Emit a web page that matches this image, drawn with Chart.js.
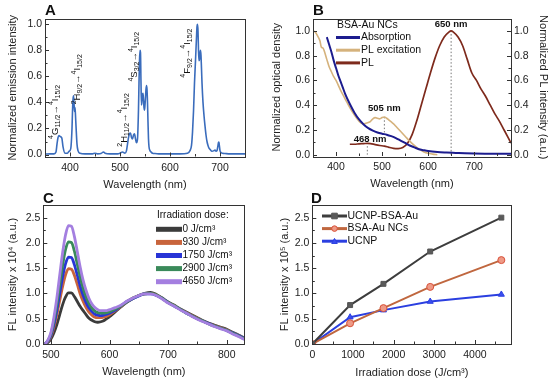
<!DOCTYPE html>
<html>
<head>
<meta charset="utf-8">
<script src="https://cdn.jsdelivr.net/npm/chart.js@4.4.0/dist/chart.umd.min.js"></script>
<style>
body { margin: 0; background: #fff; }
#wrap { position: relative; width: 550px; height: 381px; overflow: hidden; background: #fff; }
.panel { position: absolute; }
</style>
</head>
<body>
<div id="wrap">
  <div class="panel" style="left:0;top:0;width:275px;height:190px"><canvas id="chartA"></canvas></div>
  <div class="panel" style="left:265px;top:0;width:285px;height:190px"><canvas id="chartB"></canvas></div>
  <div class="panel" style="left:0;top:190px;width:275px;height:191px"><canvas id="chartC"></canvas></div>
  <div class="panel" style="left:265px;top:190px;width:285px;height:191px"><canvas id="chartD"></canvas></div>
</div>
<script>
// ---- panel A : UCNP emission
const wlA = [350, 360, 368, 372, 374, 376, 378, 380, 382, 384, 386, 390, 395, 398, 400, 402, 404, 405, 406, 407, 408, 409, 410, 411, 412, 414, 416, 420, 430, 445, 450, 455, 462, 467, 470, 480, 495, 500, 505, 510, 513, 515, 517, 519, 521, 523, 525, 527, 529, 531, 533, 535, 537, 538, 539, 540, 541, 542, 543, 544, 545, 546, 547, 548, 549, 550, 551, 552, 553, 554, 555, 556, 557, 558, 560, 562, 565, 570, 580, 600, 620, 635, 640, 643, 645, 647, 649, 651, 653, 654, 655, 656, 657, 658, 659, 660, 661, 662, 663, 664, 666, 668, 670, 672, 674, 676, 678, 680, 684, 688, 690, 692, 694, 696, 697, 698, 699, 700, 702, 705, 710, 720, 735, 750];
const emA = [0.004, 0.005, 0.005, 0.02, 0.08, 0.13, 0.145, 0.14, 0.135, 0.12, 0.06, 0.01, 0.01, 0.025, 0.03, 0.06, 0.2, 0.33, 0.42, 0.45, 0.4, 0.33, 0.36, 0.3, 0.22, 0.08, 0.03, 0.01, 0.005, 0.005, 0.01, 0.005, 0.008, 0.02, 0.01, 0.005, 0.005, 0.01, 0.02, 0.01, 0.03, 0.08, 0.13, 0.16, 0.165, 0.13, 0.12, 0.15, 0.16, 0.12, 0.09, 0.12, 0.35, 0.55, 0.72, 0.8, 0.78, 0.55, 0.38, 0.42, 0.46, 0.47, 0.42, 0.36, 0.34, 0.38, 0.44, 0.5, 0.53, 0.5, 0.4, 0.25, 0.12, 0.06, 0.03, 0.02, 0.01, 0.008, 0.005, 0.005, 0.005, 0.01, 0.03, 0.07, 0.17, 0.33, 0.55, 0.72, 0.9, 0.98, 1.0, 0.95, 0.8, 0.72, 0.73, 0.78, 0.8, 0.76, 0.66, 0.55, 0.4, 0.3, 0.22, 0.15, 0.1, 0.07, 0.05, 0.04, 0.025, 0.03, 0.035, 0.025, 0.03, 0.07, 0.095, 0.09, 0.06, 0.03, 0.015, 0.01, 0.008, 0.005, 0.005, 0.005];
const ticksAx = [400, 500, 600, 700];
const ticksNorm = [0, 0.2, 0.4, 0.6, 0.8, 1.0];

// ---- panel B : BSA-Au NCs
const wlAbs = [380, 385, 390, 395, 400, 405, 410, 415, 420, 430, 440, 450, 460, 470, 480, 490, 500, 510, 520, 530, 540, 550, 560, 570, 580, 590, 600, 620, 640, 660, 680, 700, 740, 780];
const odAbs = [0.95, 0.89, 0.83, 0.76, 0.70, 0.64, 0.59, 0.54, 0.49, 0.41, 0.34, 0.285, 0.245, 0.215, 0.195, 0.18, 0.17, 0.162, 0.15, 0.135, 0.115, 0.095, 0.075, 0.06, 0.045, 0.037, 0.03, 0.022, 0.018, 0.015, 0.012, 0.01, 0.008, 0.008];
const wlExc = [350, 355, 360, 365, 368, 372, 376, 380, 385, 390, 395, 400, 410, 420, 430, 440, 450, 455, 460, 465, 470, 475, 480, 485, 490, 495, 500, 505, 510, 515, 520, 525, 530, 540, 550, 560, 570, 580, 590, 600, 610, 620];
const excB = [1.0, 0.99, 0.96, 0.92, 0.87, 0.86, 0.82, 0.77, 0.71, 0.67, 0.63, 0.6, 0.52, 0.45, 0.38, 0.32, 0.27, 0.255, 0.25, 0.255, 0.26, 0.27, 0.29, 0.3, 0.295, 0.29, 0.3, 0.305, 0.295, 0.28, 0.265, 0.25, 0.23, 0.19, 0.15, 0.11, 0.075, 0.045, 0.025, 0.012, 0.005, 0.0];
const wlPL = [430, 440, 450, 460, 468, 475, 485, 495, 505, 515, 525, 535, 545, 555, 565, 575, 585, 595, 605, 615, 625, 635, 645, 650, 655, 665, 675, 685, 695, 705, 715, 725, 735, 745, 755, 765, 775, 780];
const plB = [0.085, 0.085, 0.088, 0.09, 0.092, 0.09, 0.082, 0.075, 0.07, 0.06, 0.052, 0.05, 0.058, 0.09, 0.16, 0.27, 0.4, 0.53, 0.66, 0.78, 0.88, 0.95, 0.99, 1.0, 0.99, 0.95, 0.88, 0.77, 0.66, 0.6, 0.53, 0.47, 0.4, 0.33, 0.27, 0.2, 0.13, 0.095];
const peaksB = [468, 505, 650];
const peakTopB = [0.085, 0.31, 1.0];
const peakBotB = [0, 0.18, 0];
const ticksBx = [400, 500, 600, 700];

// ---- panel C : FL spectra vs irradiation dose
const wlC = [490, 495, 500, 505, 510, 515, 520, 525, 530, 535, 540, 545, 550, 555, 560, 565, 570, 575, 580, 585, 590, 595, 600, 610, 620, 630, 640, 650, 660, 670, 680, 690, 700, 710, 720, 730, 740, 750, 760, 770, 780, 790, 800, 810, 820, 830];
const dosesC = ['0 J/cm³', '930 J/cm³', '1750 J/cm³', '2900 J/cm³', '4650 J/cm³'];
const fl0 = [0.0, 0.03, 0.1, 0.22, 0.38, 0.58, 0.78, 0.93, 1.01, 1.01, 0.94, 0.84, 0.74, 0.66, 0.58, 0.51, 0.47, 0.44, 0.43, 0.44, 0.46, 0.5, 0.54, 0.64, 0.74, 0.83, 0.9, 0.96, 1.0, 1.02, 0.98, 0.91, 0.83, 0.77, 0.7, 0.64, 0.58, 0.52, 0.46, 0.41, 0.37, 0.33, 0.29, 0.23, 0.18, 0.12];
const fl930 = [0.0, 0.05, 0.15, 0.33, 0.57, 0.86, 1.14, 1.37, 1.49, 1.48, 1.36, 1.18, 0.99, 0.84, 0.72, 0.63, 0.57, 0.53, 0.52, 0.52, 0.53, 0.55, 0.58, 0.66, 0.75, 0.84, 0.91, 0.96, 0.99, 1.0, 0.97, 0.9, 0.82, 0.76, 0.69, 0.63, 0.57, 0.51, 0.45, 0.4, 0.36, 0.32, 0.28, 0.22, 0.17, 0.11];
const fl1750 = [0.0, 0.06, 0.17, 0.38, 0.66, 1.0, 1.33, 1.59, 1.72, 1.71, 1.57, 1.36, 1.14, 0.96, 0.82, 0.71, 0.64, 0.59, 0.57, 0.56, 0.57, 0.59, 0.61, 0.67, 0.76, 0.84, 0.9, 0.95, 0.99, 0.99, 0.96, 0.9, 0.82, 0.75, 0.69, 0.62, 0.56, 0.5, 0.45, 0.4, 0.35, 0.31, 0.27, 0.22, 0.17, 0.11];
const fl2900 = [0.0, 0.07, 0.2, 0.45, 0.78, 1.17, 1.56, 1.87, 2.02, 2.01, 1.84, 1.58, 1.32, 1.1, 0.93, 0.8, 0.71, 0.65, 0.62, 0.61, 0.61, 0.62, 0.64, 0.69, 0.76, 0.84, 0.91, 0.96, 0.99, 1.0, 0.97, 0.9, 0.82, 0.76, 0.69, 0.62, 0.56, 0.5, 0.45, 0.39, 0.35, 0.31, 0.27, 0.21, 0.16, 0.1];
const fl4650 = [0.0, 0.08, 0.23, 0.52, 0.9, 1.36, 1.81, 2.16, 2.34, 2.33, 2.13, 1.83, 1.52, 1.26, 1.06, 0.9, 0.79, 0.72, 0.68, 0.66, 0.66, 0.66, 0.68, 0.72, 0.77, 0.85, 0.91, 0.96, 0.99, 0.99, 0.96, 0.89, 0.81, 0.75, 0.68, 0.62, 0.55, 0.49, 0.44, 0.39, 0.34, 0.3, 0.26, 0.2, 0.15, 0.09];
const ticksCx = [500, 600, 700, 800];
const ticksFL = [0, 0.5, 1.0, 1.5, 2.0, 2.5];

// ---- panel D : FL intensity vs dose
const doseD = [0, 930, 1750, 2900, 4650];
const flHybrid = [0, 0.77, 1.19, 1.83, 2.5];
const flBSA = [0, 0.41, 0.71, 1.13, 1.66];
const flUCNP = [0, 0.53, 0.67, 0.84, 0.98];
const ticksDx = [0, 1000, 2000, 3000, 4000];

const FONT = "'Liberation Sans', Arial, sans-serif";
Chart.defaults.font.family = FONT;
Chart.defaults.font.size = 10.5;
Chart.defaults.color = '#222';

function pts(xs, ys) {
    return xs.map((x, i) => ({ x: x, y: ys[i] }));
}

function fixTicks(values) {
    return function (scale) { scale.ticks = values.map(v => ({ value: v })); };
}

function xAxis(min, max, values, title, height, pb) {
    return {
	type: 'linear', min: min, max: max,
	grid: { display: false, drawTicks: false }, border: { display: false },
	afterBuildTicks: fixTicks(values),
	afterFit: s => { s.height = height; },
	ticks: { padding: 5, maxRotation: 0, autoSkip: false, callback: v => String(v) },
	title: { display: true, text: title, font: { size: 11, lineHeight: 1 }, padding: { top: 0, bottom: pb } }
    };
}

function yAxis(min, max, values, title, width, pt, position) {
    return {
	type: 'linear', position: position || 'left', min: min, max: max,
	grid: { display: false, drawTicks: false }, border: { display: false },
	afterBuildTicks: fixTicks(values),
	afterFit: s => { s.width = width; },
	ticks: { padding: 3, autoSkip: false, callback: v => v.toFixed(1) },
	title: { display: true, text: title, font: { size: 11, lineHeight: 1 }, padding: { top: pt, bottom: 0 } }
    };
}

// box round the plot and inward tick marks, like the original plots
const framePlugin = {
    id: 'frame',
    afterDraw(chart) {
	const ctx = chart.ctx, a = chart.chartArea;
	ctx.save();
	ctx.strokeStyle = '#333';
	ctx.lineWidth = 1;
	ctx.strokeRect(Math.round(a.left) + 0.5, Math.round(a.top) + 0.5, Math.round(a.right - a.left), Math.round(a.bottom - a.top));
	Object.values(chart.scales).forEach(s => {
	    const vals = s.ticks.map(t => t.value);
	    const step = vals[1] - vals[0];
	    const all = [];
	    for (let v = vals[0] - step / 2; v <= s.max; v += step / 2)
		if (v >= s.min) all.push(v);
	    all.forEach(v => {
		const major = vals.some(m => Math.abs(m - v) < step / 100);
		const len = major ? 4 : 2.5;
		const p = Math.round(s.getPixelForValue(v)) + 0.5;
		ctx.beginPath();
		if (s.axis === 'x') { ctx.moveTo(p, a.bottom); ctx.lineTo(p, a.bottom - len); }
		else if (s.position === 'left') { ctx.moveTo(a.left, p); ctx.lineTo(a.left + len, p); }
		else { ctx.moveTo(a.right, p); ctx.lineTo(a.right - len, p); }
		ctx.stroke();
	    });
	});
	ctx.restore();
    }
};

function panelLetter(letter, x, y) {
    return {
	id: 'letter' + letter,
	afterDraw(chart) {
	    const ctx = chart.ctx;
	    ctx.save();
	    ctx.font = 'bold 15px ' + FONT;
	    ctx.fillStyle = '#111';
	    ctx.textBaseline = 'alphabetic';
	    ctx.fillText(letter, x, y);
	    ctx.restore();
	}
    };
}

// rotated level label, parts: [text, 1 = sup, -1 = sub, 0 = normal]
function drawLevel(ctx, x, y, parts) {
    ctx.save();
    ctx.translate(x, y);
    ctx.rotate(-Math.PI / 2);
    ctx.textAlign = 'left';
    ctx.textBaseline = 'alphabetic';
    ctx.fillStyle = '#111';
    let pos = 0;
    parts.forEach(p => {
	ctx.font = (p[1] === 0 ? 9.5 : 7) + 'px ' + FONT;
	ctx.fillText(p[0], pos, p[1] === 1 ? -4.5 : (p[1] === -1 ? 2.2 : 0));
	pos += ctx.measureText(p[0]).width;
    });
    ctx.restore();
}

const I15 = [['→', 0], ['4', 1], ['I', 0], ['15/2', -1]];
const levelsA = [
    { wl: 368, y: 0.12, parts: [['4', 1], ['G', 0], ['11/2', -1]].concat(I15) },
    { wl: 413, y: 0.385, parts: [['2', 1], ['H', 0], ['9/2', -1]].concat(I15) },
    { wl: 506, y: 0.06, parts: [['2', 1], ['H', 0], ['11/2', -1]].concat(I15) },
    { wl: 527, y: 0.56, parts: [['4', 1], ['S', 0], ['3/2', -1]].concat(I15) },
    { wl: 632, y: 0.59, parts: [['4', 1], ['F', 0], ['9/2', -1]].concat(I15) }
];

const labelsA = {
    id: 'labelsA',
    afterDraw(chart) {
	const ctx = chart.ctx, sx = chart.scales.x, sy = chart.scales.y;
	levelsA.forEach(l => drawLevel(ctx, sx.getPixelForValue(l.wl) + 3.5, sy.getPixelForValue(l.y), l.parts));
    }
};

const configA = {
    type: 'line',
    data: {
	datasets: [{
	    data: pts(wlA, emA),
	    borderColor: '#3a6cbc',
	    borderWidth: 1.6,
	    pointRadius: 0,
	    cubicInterpolationMode: 'monotone'
	}]
    },
    options: {
	responsive: true, maintainAspectRatio: false, animation: false,
	layout: { padding: { left: 0, right: 30, top: 19, bottom: 0 } },
	plugins: { legend: { display: false }, tooltip: { enabled: false } },
	scales: {
	    x: xAxis(350, 750, ticksAx, 'Wavelength (nm)', 33.5, 0),
	    y: yAxis(-0.015, 1.04, ticksNorm, 'Normalized emission intensity', 45, 7.5)
	}
    },
    plugins: [framePlugin, labelsA, panelLetter('A', 45, 15)]
};

const peakLabelsB = [
    { text: '650 nm', wl: 650, y: 1.055 },
    { text: '505 nm', wl: 505, y: 0.375 },
    { text: '468 nm', wl: 474, y: 0.128 }
];

const decorB = {
    id: 'decorB',
    afterDraw(chart) {
	const ctx = chart.ctx, sx = chart.scales.x, sy = chart.scales.y;
	ctx.save();
	ctx.font = 'bold 9.5px ' + FONT;
	ctx.fillStyle = '#111';
	ctx.textAlign = 'center';
	ctx.textBaseline = 'middle';
	peakLabelsB.forEach(p => ctx.fillText(p.text, sx.getPixelForValue(p.wl), sy.getPixelForValue(p.y)));
	// legend
	ctx.font = '10.5px ' + FONT;
	ctx.textAlign = 'left';
	ctx.fillText('BSA-Au NCs', 72, 25);
	chart.data.datasets.slice(0, 3).forEach((d, i) => {
	    const yy = 37.5 + i * 12.7;
	    ctx.strokeStyle = d.borderColor;
	    ctx.lineWidth = 3;
	    ctx.beginPath();
	    ctx.moveTo(71, yy);
	    ctx.lineTo(95, yy);
	    ctx.stroke();
	    ctx.fillText(d.label, 96, yy);
	});
	ctx.restore();
    }
};

const datasetsB = [
    { label: 'Absorption', data: pts(wlAbs, odAbs), borderColor: '#1c1c8e', borderWidth: 2, yAxisID: 'y' },
    { label: 'PL excitation', data: pts(wlExc, excB), borderColor: '#d5b27c', borderWidth: 1.6, yAxisID: 'y' },
    { label: 'PL', data: pts(wlPL, plB), borderColor: '#7e2a1c', borderWidth: 1.7, yAxisID: 'y2' }
];
peaksB.forEach((w, i) => {
    datasetsB.push({
	label: 'peak ' + w,
	data: [{ x: w, y: peakBotB[i] }, { x: w, y: peakTopB[i] }],
	borderColor: '#777',
	borderWidth: 1,
	borderDash: [1.5, 2],
	yAxisID: 'y'
    });
});
datasetsB.forEach(d => { d.pointRadius = 0; d.cubicInterpolationMode = 'monotone'; });

const configB = {
    type: 'line',
    data: { datasets: datasetsB },
    options: {
	responsive: true, maintainAspectRatio: false, animation: false,
	layout: { padding: { left: 0, right: 0, top: 18.5, bottom: 0 } },
	plugins: { legend: { display: false }, tooltip: { enabled: false } },
	scales: {
	    x: xAxis(350, 780, ticksBx, 'Wavelength (nm)', 34, 0.5),
	    y: yAxis(-0.01, 1.1, ticksNorm, 'Normalized optical density', 48, 6.5),
	    y2: yAxis(-0.01, 1.1, ticksNorm, 'Normalized PL intensity (a.u.)', 39, 1.5, 'right')
	}
    },
    plugins: [framePlugin, decorB, panelLetter('B', 48, 15)]
};

const colorsC = ['#3b3b3b', '#c8643c', '#2834d6', '#3a8a5a', '#a47fe0'];
const seriesC = [fl0, fl930, fl1750, fl2900, fl4650];

const legendC = {
    id: 'legendC',
    afterDraw(chart) {
	const ctx = chart.ctx;
	ctx.save();
	ctx.font = '10px ' + FONT;
	ctx.fillStyle = '#111';
	ctx.textBaseline = 'middle';
	ctx.fillText('Irradiation dose:', 157, 25);
	chart.data.datasets.forEach((d, i) => {
	    const yy = 39.3 + i * 13.1;
	    ctx.strokeStyle = d.borderColor;
	    ctx.lineWidth = 5;
	    ctx.beginPath();
	    ctx.moveTo(156, yy);
	    ctx.lineTo(182, yy);
	    ctx.stroke();
	    ctx.fillText(d.label, 182.5, yy);
	});
	ctx.restore();
    }
};

const configC = {
    type: 'line',
    data: {
	datasets: seriesC.map((s, i) => ({
	    label: dosesC[i],
	    data: pts(wlC, s),
	    borderColor: colorsC[i],
	    borderWidth: 2.8,
	    pointRadius: 0,
	    cubicInterpolationMode: 'monotone',
	    order: seriesC.length - i
	}))
    },
    options: {
	responsive: true, maintainAspectRatio: false, animation: false,
	layout: { padding: { left: 0, right: 30.7, top: 15, bottom: 0 } },
	plugins: { legend: { display: false }, tooltip: { enabled: false } },
	scales: {
	    x: xAxis(487, 830, ticksCx, 'Wavelength (nm)', 37, 3.5),
	    y: yAxis(0, 2.75, ticksFL, 'FL intensity x 10⁴ (a.u.)', 43.3, 7.5)
	}
    },
    plugins: [framePlugin, legendC, panelLetter('C', 43, 13)]
};

const namesD = ['UCNP-BSA-Au', 'BSA-Au NCs', 'UCNP'];
const seriesD = [flHybrid, flBSA, flUCNP];
const lineColD = ['#3d3d3d', '#c0673f', '#2b3fe0'];
const markColD = ['#555555', '#d8513a', '#2b3fe0'];
const markFillD = ['#5a5a5a', '#ee9a86', '#3a4ef0'];
const styleD = ['rect', 'circle', 'triangle'];

function drawMarker(ctx, style, x, y, r, fill, stroke) {
    ctx.fillStyle = fill;
    ctx.strokeStyle = stroke;
    ctx.lineWidth = 1;
    ctx.beginPath();
    if (style === 'rect') ctx.rect(x - r, y - r, 2 * r, 2 * r);
    else if (style === 'circle') ctx.arc(x, y, r, 0, 2 * Math.PI);
    else { ctx.moveTo(x, y - r); ctx.lineTo(x + r, y + r * 0.8); ctx.lineTo(x - r, y + r * 0.8); ctx.closePath(); }
    ctx.fill();
    ctx.stroke();
}

const legendD = {
    id: 'legendD',
    afterDraw(chart) {
	const ctx = chart.ctx;
	ctx.save();
	ctx.font = '10.5px ' + FONT;
	ctx.textBaseline = 'middle';
	chart.data.datasets.forEach((d, i) => {
	    const yy = 26 + i * 12.6;
	    ctx.strokeStyle = d.borderColor;
	    ctx.lineWidth = 3;
	    ctx.beginPath();
	    ctx.moveTo(57, yy);
	    ctx.lineTo(82, yy);
	    ctx.stroke();
	    drawMarker(ctx, styleD[i], 69.5, yy, 2.8, markFillD[i], markColD[i]);
	    ctx.fillStyle = '#111';
	    ctx.fillText(d.label, 82.5, yy);
	});
	ctx.restore();
    }
};

const configD = {
    type: 'line',
    data: {
	datasets: seriesD.map((s, i) => ({
	    label: namesD[i],
	    data: pts(doseD, s),
	    borderColor: lineColD[i],
	    borderWidth: 2,
	    pointStyle: styleD[i],
	    pointRadius: 3.5,
	    pointBackgroundColor: markFillD[i],
	    pointBorderColor: markColD[i],
	    pointBorderWidth: 1
	}))
    },
    options: {
	responsive: true, maintainAspectRatio: false, animation: false,
	layout: { padding: { left: 0, right: 38.5, top: 15, bottom: 0 } },
	plugins: { legend: { display: false }, tooltip: { enabled: false } },
	scales: {
	    x: xAxis(0, 4900, ticksDx, 'Irradiation dose (J/cm³)', 37, 2.5),
	    y: yAxis(0, 2.75, ticksFL, 'FL intensity x 10⁵ (a.u.)', 47.3, 14.5)
	}
    },
    plugins: [framePlugin, legendD, panelLetter('D', 46, 13)]
};

new Chart(document.getElementById('chartA').getContext('2d'), configA);
new Chart(document.getElementById('chartB').getContext('2d'), configB);
new Chart(document.getElementById('chartC').getContext('2d'), configC);
new Chart(document.getElementById('chartD').getContext('2d'), configD);
</script>
</body>
</html>
